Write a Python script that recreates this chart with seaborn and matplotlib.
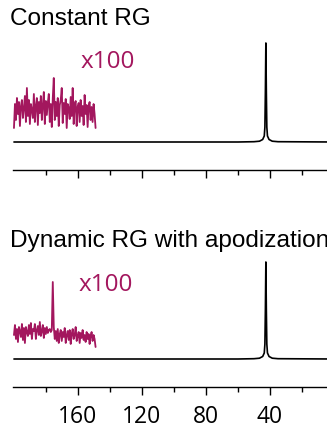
import matplotlib

matplotlib.use("Agg")
import matplotlib.pyplot as plt
import numpy as np
import pandas as pd
import seaborn as sns

# main 13C trace: one sharp line near 42.6 ppm
peak_ppm = [200, 60, 50, 46.6, 44.6, 43.6, 43.2, 42.9, 42.6, 42.3, 42.0, 41.6, 40.6, 38.6, 35, 0]
peak_top = [0, 0, 0.3, 0.8, 2.5, 6, 15, 50, 99, 50, 15, 6, 2.5, 0.8, 0.3, 0]
peak_bottom = [0, 0, 0.3, 0.8, 2.5, 6, 15, 49, 97, 49, 15, 6, 2.5, 0.8, 0.3, 0]

# x100 zoom of the 200-149 ppm window, one value per pixel column
inset_ppm = (200, 149)
noise_top = [
    -18, 6, -10, 12, -4, 8, -16, 4, 10, -8, 2, 14, -12, 22, -6, 10, -14, 6, 0, -8,
    16, -12, 4, 12, -15, 8, -3, 14, -10, 5, 18, -14, 9, -5, 7, 16, -12, 6, -17, 12,
    32, -10, 8, -6, 12, -16, 5, 10, 22, -13, 7, -4, 11, -18, 6, 2, -9, 13, -6, 22,
    -14, 6, 9, -16, 3, 7, -12, 10, -6, 4, -15, 15, -4, 5, -17, 4, 8, -10, 3, -12,
    6, -4, -18,
]
noise_bottom = [
    -2, 8, -6, 4, -9, 6, 2, -4, 9, -7, 5, -10, 6, 1, -3, 8, -1, 10, -6, 4,
    2, 9, -6, 3, 7, -2, 11, -3, 2, 8, -5, 5, -1, 6, 0, 3, 4, 1, 3, 51,
    6, -6, 2, -8, 4, -10, -1, 3, -8, 1, -4, 5, -10, -2, 2, -7, 3, -11, -1, 4,
    -6, -2, 6, -8, -3, 1, -10, 0, -5, 3, -7, -2, -9, 1, -6, -1, -11, -3, 1, -8,
    -2, -6, -14,
]

titles = ["Constant RG", "Dynamic RG with apodization"]
inset_label = "x100"
major_ticks = [160, 120, 80, 40]
minor_ticks = [180, 140, 100, 60, 20]

W, H = 327, 429
INK = "#a3175e"


def draw_panel(fig, bottom_px, peak, noise, offset, title, title_y, label_xy, show_labels):
    ax = fig.add_axes([13 / W, 1 - bottom_px / H, 314 / W, 140 / H])
    spec = pd.DataFrame({"ppm": peak_ppm, "I": peak})
    sns.lineplot(data=spec, x="ppm", y="I", color="black", lw=1.2, ax=ax, sort=False)
    ins = pd.DataFrame({"ppm": np.linspace(*inset_ppm, len(noise)), "I": np.array(noise) + offset})
    sns.lineplot(data=ins, x="ppm", y="I", color=INK, lw=1.3, ax=ax, sort=False)
    ax.set_xlim(200.6, 4.4)
    ax.set_ylim(-28, 112)
    ax.set_xlabel("")
    ax.set_ylabel("")
    ax.set_yticks([])
    for side in ["left", "top", "right"]:
        ax.spines[side].set_visible(False)
    ax.spines["bottom"].set_linewidth(1.0)
    ax.spines["bottom"].set_color("black")
    ax.set_xticks(major_ticks)
    ax.set_xticks(minor_ticks, minor=True)
    ax.tick_params(axis="x", which="major", length=6, width=1.0, direction="out", pad=7,
                   labelsize=16.5, labelbottom=show_labels, color="black", labelcolor="black")
    ax.tick_params(axis="x", which="minor", length=3.5, width=1.0, direction="out", color="black")
    for lab in ax.get_xticklabels():
        lab.set_family("Open Sans")
    fig.text(10 / W, 1 - title_y / H, title, fontsize=17.6, family="Liberation Sans",
             color="black", va="center", ha="left")
    fig.text(label_xy[0] / W, 1 - label_xy[1] / H, inset_label, fontsize=17.5,
             family="Open Sans", color=INK, va="center", ha="left")
    return ax


def main() -> None:
    sns.set_theme(style="ticks")
    fig = plt.figure(figsize=(W / 100, H / 100), dpi=100)
    draw_panel(fig, 170, peak_top, noise_top, 32, titles[0], 19, (81, 62), False)
    draw_panel(fig, 387, peak_bottom, noise_bottom, 26, titles[1], 241, (79, 285), True)
    fig.savefig("out.png", dpi=100)
    plt.close(fig)


if __name__ == "__main__":
    main()
